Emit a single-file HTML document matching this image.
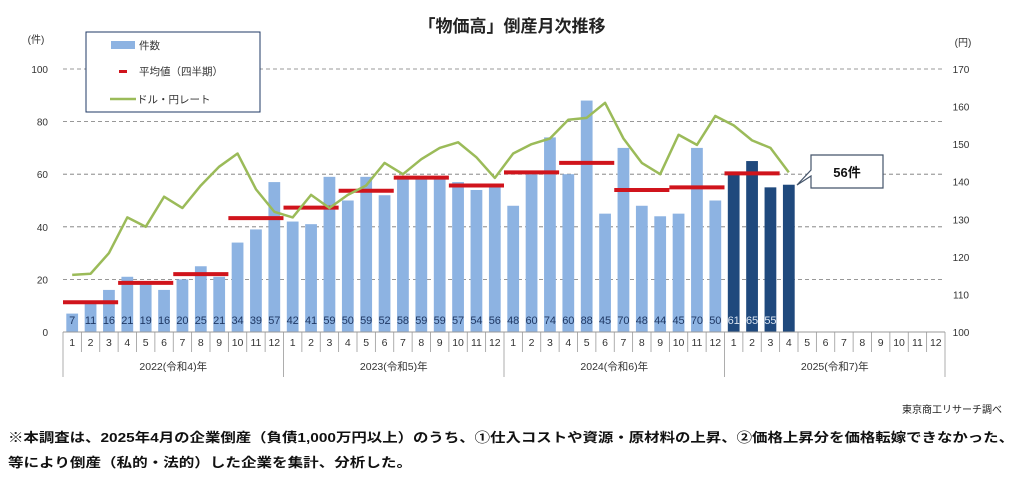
<!DOCTYPE html>
<html><head><meta charset="utf-8">
<style>
html,body{margin:0;padding:0;background:#fff;}
svg{display:block;font-family:"Liberation Sans","Noto Sans CJK JP",sans-serif;}
</style></head>
<body>
<svg id="chart" width="1024" height="485" viewBox="0 0 1024 485" xmlns="http://www.w3.org/2000/svg">
<text x="512" y="32" text-anchor="middle" font-size="17" font-weight="bold" fill="#222">「物価高」倒産月次推移</text>
<text x="36" y="43" text-anchor="middle" font-size="10" fill="#333">(件)</text>
<text x="963" y="46" text-anchor="middle" font-size="10" fill="#333">(円)</text>
<g id="grid"></g>
<g id="bars"></g>
<g id="avgs"></g>
<g id="line"></g>
<g id="axes"></g>
<g>
<rect x="86" y="32" width="174" height="80" fill="#fff" stroke="#1f3864" stroke-width="1"/>
<rect x="111" y="41" width="24" height="8" fill="#8db3e2"/>
<text x="139" y="49" font-size="10.5" fill="#333">件数</text>
<rect x="119" y="70" width="8" height="3" fill="#d0141c"/>
<text x="139" y="75" font-size="10.5" fill="#333">平均値（四半期）</text>
<line x1="110" y1="99" x2="136" y2="99" stroke="#9bbb59" stroke-width="2.5"/>
<text x="137" y="103" font-size="10.5" fill="#333">ドル・円レート</text>
</g>
<g>
<path d="M811,155 H883 V188 H811 V176 L797,185 L811,170 Z" fill="#fff" stroke="#44546a" stroke-width="1.2"/>
<text x="847" y="177" text-anchor="middle" font-size="13" font-weight="bold" fill="#111">56件</text>
</g>
<text x="1002" y="413" text-anchor="end" font-size="10" fill="#222">東京商工リサーチ調べ</text>
<text x="8" y="442" font-size="13" font-weight="bold" fill="#111" textLength="1006" lengthAdjust="spacingAndGlyphs">※本調査は、2025年4月の企業倒産（負債1,000万円以上）のうち、①仕入コストや資源・原材料の上昇、②価格上昇分を価格転嫁できなかった、</text>
<text x="8" y="467" font-size="13" font-weight="bold" fill="#111" textLength="404" lengthAdjust="spacingAndGlyphs">等により倒産（私的・法的）した企業を集計、分析した。</text>
</svg>
<script>
const counts = [7,11,16,21,19,16,20,25,21,34,39,57, 42,41,59,50,59,52,58,59,59,57,54,56, 48,60,74,60,88,45,70,48,44,45,70,50, 61,65,55,56];
const yenRate = [115.2,115.5,121,130.5,128,136,133,139,144,147.5,138,132, 130.5,136.5,133,136.5,139,145,142,146,149,150.5,146.5,141, 147.5,150,151.5,156.5,157,161,151.5,145,142,152.5,149.8,157.5, 155,151,149,142.5];
const quarterAvg = [11.3,18.7,22,43.3, 47.3,53.7,58.7,55.7, 60.7,64.3,54,55, 60.3];
const leftTicks = [0,20,40,60,80,100];
const rightTicks = [100,110,120,130,140,150,160,170];
const years = ["2022(令和4)年","2023(令和5)年","2024(令和6)年","2025(令和7)年"];
const monthLabels = ["1","2","3","4","5","6","7","8","9","10","11","12"];

const NS="http://www.w3.org/2000/svg";
const X0=63, X1=945, Y0=332, Y1=69, N=48;
const slot=(X1-X0)/N;
const xc=i=>X0+slot*(i+0.5);
const yL=v=>Y0-(v/100)*(Y0-Y1);
const yR=v=>Y0-((v-100)/70)*(Y0-Y1);
function mk(tag,attrs,parent){const e=document.createElementNS(NS,tag);for(const k in attrs)e.setAttribute(k,attrs[k]);parent.appendChild(e);return e;}
const grid=document.getElementById('grid'),bars=document.getElementById('bars'),avgs=document.getElementById('avgs'),line=document.getElementById('line'),axes=document.getElementById('axes');

leftTicks.forEach(t=>{
  if(t>0){const g=mk('line',{x1:X0,x2:X1,y1:yL(t),y2:yL(t),stroke:'#777','stroke-dasharray':'4,3','stroke-width':0.8},grid);
  
  }
  const tx=mk('text',{x:48,y:yL(t)+4,'text-anchor':'end','font-size':10,fill:'#333'},axes);
  tx.textContent=t;
  
  
});
rightTicks.forEach(t=>{
  const tx=mk('text',{x:961,y:yR(t)+4,'text-anchor':'middle','font-size':10,fill:'#333'},axes);
  tx.textContent=t;
  
  
});

const bw=slot*0.64;
counts.forEach((v,i)=>{
  const dark=i>=36;
  const r=mk('rect',{x:xc(i)-bw/2,y:yL(v),width:bw,height:Y0-yL(v),fill:dark?'#1f497d':'#8db3e2'},bars);
  
  
  if(i<39){
    const t=mk('text',{x:xc(i),y:Y0-8,'text-anchor':'middle','font-size':11,fill:dark?'#dce6f2':'#1f3864'},bars);
    t.textContent=v;
    
    
  }
});

quarterAvg.forEach((v,q)=>{
  const l=mk('line',{x1:X0+slot*q*3,x2:X0+slot*(q*3+3),y1:yL(v),y2:yL(v),stroke:'#d0141c','stroke-width':4},avgs);
  
  
});

const pts=yenRate.map((v,i)=>xc(i)+','+yR(v)).join(' ');
const pl=mk('polyline',{points:pts,fill:'none',stroke:'#9bbb59','stroke-width':2.5,'stroke-linejoin':'round'},line);



// x axis
mk('line',{x1:X0,x2:X1,y1:Y0,y2:Y0,stroke:'#999','stroke-width':1},axes);
for(let i=0;i<=N;i++){
  const x=X0+slot*i;
  const yb=(i%12===0)?377:352;
  mk('line',{x1:x,x2:x,y1:Y0,y2:yb,stroke:'#999','stroke-width':0.8},axes);
}
for(let i=0;i<N;i++){
  const t=mk('text',{x:xc(i),y:346,'text-anchor':'middle','font-size':10.5,fill:'#333'},axes);
  t.textContent=monthLabels[i%12];
  
  
}
years.forEach((y,k)=>{
  const t=mk('text',{x:X0+slot*(k*12+6),y:370,'text-anchor':'middle','font-size':10.5,fill:'#333'},axes);
  t.textContent=y;
  
  
});
</script>
</body></html>
